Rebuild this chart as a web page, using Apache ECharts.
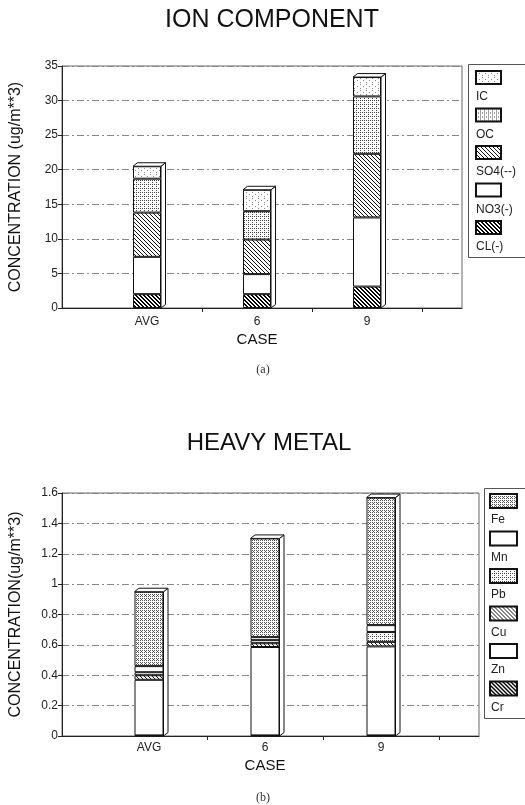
<!DOCTYPE html>
<html>
<head>
<meta charset="utf-8">
<script src="https://cdn.jsdelivr.net/npm/echarts@6/dist/echarts.min.js"></script>
<style>
  html, body { margin: 0; padding: 0; background: #fff; }
  #chart { width: 525px; height: 805px; }
</style>
</head>
<body>
<div id="chart"></div>
<script>
// Sampling cases shared by both panels
const cases = ['AVG', '6', '9'];

// (a) Ion components, ug/m**3 (stacked bottom to top)
const ionCL = [2.0, 2.0, 3.1];
const ionNO3 = [5.4, 2.9, 10.0];
const ionSO4 = [6.4, 5.0, 9.2];
const ionOC = [4.9, 4.1, 8.3];
const ionIC = [1.8, 3.1, 2.8];
const ionLegend = ['IC', 'OC', 'SO4(--)', 'NO3(-)', 'CL(-)'];
const ionAxis = { min: 0, max: 35, step: 5 };

// (b) Heavy metals, ug/m**3 (stacked bottom to top)
const metalCr = [0.004, 0.004, 0.004];
const metalZn = [0.366, 0.582, 0.586];
const metalCu = [0.03, 0.025, 0.03];
const metalPb = [0.02, 0.02, 0.065];
const metalMn = [0.04, 0.02, 0.045];
const metalFe = [0.49, 0.65, 0.84];
const metalLegend = ['Fe', 'Mn', 'Pb', 'Cu', 'Zn', 'Cr'];
const metalAxis = { min: 0, max: 1.6, step: 0.2 };

// ---- fill patterns (monochrome print style) ----
function pattern(size, test, fg) {
  const c = document.createElement('canvas');
  c.width = c.height = size;
  const ctx = c.getContext('2d');
  ctx.fillStyle = '#fff';
  ctx.fillRect(0, 0, size, size);
  ctx.fillStyle = fg;
  for (let y = 0; y < size; y++) {
    for (let x = 0; x < size; x++) {
      if (test(x, y)) ctx.fillRect(x, y, 1, 1);
    }
  }
  return { image: c, repeat: 'repeat' };
}
const fillWhite = '#ffffff';
const fillHatch = pattern(4, (x, y) => (x - y + 8) % 4 === 0, '#111');
const fillHatchDark = pattern(4, (x, y) => (x - y + 8) % 4 <= 1, '#000');
const fillGridDots = pattern(4, (x, y) => (y % 4 === 0 && x % 2 === 0) || (x % 4 === 0 && y % 2 === 0), '#444');
const fillSparseDots = pattern(6, (x, y) => (x % 6 === 0 && y % 4 === 0) || (x % 6 === 3 && y % 4 === 2), '#888');
const fillStipple = pattern(4, (x, y) => (x % 2 === 0 && y % 2 === 0) || (x % 4 === 1 && y % 4 === 3), '#555');

const FONT = '"Liberation Sans", Arial, sans-serif';

function sumArrays(arrs) {
  return cases.map((_, i) => arrs.reduce((s, a) => s + a[i], 0));
}

function stackBar(name, data, fill, xi, yi, stack, width) {
  return {
    type: 'bar', name, data, stack, xAxisIndex: xi, yAxisIndex: yi,
    barWidth: width,
    itemStyle: { color: fill, borderColor: '#111', borderWidth: 1 },
    emphasis: { disabled: true },
    z: 3
  };
}

// side and top faces giving each column a shallow box look
function boxFaces(totals, xi, yi, width) {
  return {
    type: 'custom', xAxisIndex: xi, yAxisIndex: yi, z: 4, silent: true,
    data: totals.map((t, i) => [i, t]),
    renderItem(params, api) {
      const top = api.coord([api.value(0), api.value(1)]);
      const base = api.coord([api.value(0), 0]);
      const xl = top[0] - width / 2, xr = top[0] + width / 2;
      const d = 4.5, dy = 3.5;
      const st = { fill: '#fff', stroke: '#111', lineWidth: 1 };
      return {
        type: 'group',
        children: [
          { type: 'polygon', shape: { points: [[xr, top[1]], [xr + d, top[1] - dy], [xr + d, base[1] - dy], [xr, base[1]]] }, style: st },
          { type: 'polygon', shape: { points: [[xl, top[1]], [xl + d, top[1] - dy], [xr + d, top[1] - dy], [xr, top[1]]] }, style: st }
        ]
      };
    }
  };
}

const gridLine = { show: true, lineStyle: { color: '#888', type: [7, 3, 2, 3], width: 1 } };

function valueAxis(grid, axis, name, visible) {
  return {
    type: 'value', gridIndex: grid, min: axis.min, max: axis.max, interval: axis.step,
    show: visible,
    name, nameLocation: 'middle', nameGap: 38,
    nameTextStyle: { fontFamily: FONT, fontSize: 16, color: '#111' },
    axisLine: { show: true, lineStyle: { color: '#222' } },
    axisTick: { show: true, length: 4, lineStyle: { color: '#222' } },
    axisLabel: { fontFamily: FONT, fontSize: 12, color: '#222', margin: 4 },
    splitLine: gridLine
  };
}

function frameAxis(grid) {
  return {
    type: 'value', gridIndex: grid, min: 0, max: 1,
    axisLine: { show: true, onZero: false, lineStyle: { color: '#222' } },
    axisTick: { show: false }, axisLabel: { show: false }, splitLine: { show: false }
  };
}

function caseAxis(grid, margin, nameGap) {
  return {
    type: 'category', gridIndex: grid, data: cases,
    name: 'CASE', nameLocation: 'middle', nameGap,
    nameTextStyle: { fontFamily: FONT, fontSize: 15, color: '#111' },
    axisLine: { show: false },
    axisTick: { show: true, length: 4, interval: (i) => i > 0, lineStyle: { color: '#222' } },
    axisLabel: { fontFamily: FONT, fontSize: 12, color: '#222', margin }
  };
}

function iconLegend(names, left, top, w, h, pitch) {
  return {
    data: names.map((n) => ({ name: n, icon: 'rect' })),
    orient: 'vertical', left, top, padding: 0,
    itemWidth: w, itemHeight: h, itemGap: pitch - h - 2,
    formatter: () => '', textStyle: { fontSize: 1, lineHeight: 1 },
    selectedMode: false
  };
}
function textLegend(names, left, top, pitch) {
  return {
    data: names, orient: 'vertical', left, top, padding: 0,
    itemWidth: 0, itemHeight: 14, itemGap: pitch - 16,
    itemStyle: { opacity: 0 },
    textStyle: { fontFamily: FONT, fontSize: 12, color: '#222', lineHeight: 14 },
    selectedMode: false
  };
}

const ionTotals = sumArrays([ionCL, ionNO3, ionSO4, ionOC, ionIC]);
const metalTotals = sumArrays([metalCr, metalZn, metalCu, metalPb, metalMn, metalFe]);

const option = {
  backgroundColor: '#fff',
  animation: false,
  grid: [
    { left: 58, top: 66, width: 404, height: 242, show: true, borderColor: '#666', borderWidth: 1 },
    { left: 92, top: 66, width: 330, height: 242 },
    { left: 58, top: 493, width: 421, height: 243, show: true, borderColor: '#666', borderWidth: 1 },
    { left: 91, top: 493, width: 348, height: 243 }
  ],
  xAxis: [frameAxis(0), caseAxis(1, 8, 24), frameAxis(2), caseAxis(3, 6, 22)],
  yAxis: [
    valueAxis(0, ionAxis, 'CONCENTRATION (ug/m**3)', true),
    valueAxis(1, ionAxis, '', false),
    valueAxis(2, metalAxis, 'CONCENTRATION(ug/m**3)', true),
    valueAxis(3, metalAxis, '', false)
  ],
  legend: [
    iconLegend(ionLegend, 475, 70, 25, 13, 37.5),
    textLegend(ionLegend, 470, 89, 37.5),
    iconLegend(metalLegend, 489, 493, 27, 14, 37.5),
    textLegend(metalLegend, 485, 512, 37.5)
  ],
  series: [
    stackBar('CL(-)', ionCL, fillHatchDark, 1, 1, 'ion', 28),
    stackBar('NO3(-)', ionNO3, fillWhite, 1, 1, 'ion', 28),
    stackBar('SO4(--)', ionSO4, fillHatch, 1, 1, 'ion', 28),
    stackBar('OC', ionOC, fillGridDots, 1, 1, 'ion', 28),
    stackBar('IC', ionIC, fillSparseDots, 1, 1, 'ion', 28),
    boxFaces(ionTotals, 1, 1, 28),
    stackBar('Cr', metalCr, fillHatchDark, 3, 3, 'metal', 29),
    stackBar('Zn', metalZn, fillWhite, 3, 3, 'metal', 29),
    stackBar('Cu', metalCu, fillHatch, 3, 3, 'metal', 29),
    stackBar('Pb', metalPb, fillGridDots, 3, 3, 'metal', 29),
    stackBar('Mn', metalMn, fillWhite, 3, 3, 'metal', 29),
    stackBar('Fe', metalFe, fillStipple, 3, 3, 'metal', 29),
    boxFaces(metalTotals, 3, 3, 29)
  ],
  graphic: [
    { type: 'text', x: 272, y: 20, style: { text: 'ION COMPONENT', font: '25px ' + FONT, fill: '#111', align: 'center', verticalAlign: 'middle' } },
    { type: 'text', x: 263, y: 370, style: { text: '(a)', font: '12px "Liberation Serif", serif', fill: '#333', align: 'center', verticalAlign: 'middle' } },
    { type: 'text', x: 269, y: 443, style: { text: 'HEAVY METAL', font: '24px ' + FONT, fill: '#111', align: 'center', verticalAlign: 'middle' } },
    { type: 'text', x: 263, y: 798, style: { text: '(b)', font: '12px "Liberation Serif", serif', fill: '#333', align: 'center', verticalAlign: 'middle' } },
    { type: 'rect', shape: { x: 468.5, y: 64.5, width: 80, height: 193 }, style: { fill: 'none', stroke: '#555', lineWidth: 1 }, z: 1 },
    { type: 'rect', shape: { x: 484.5, y: 488.5, width: 80, height: 230 }, style: { fill: 'none', stroke: '#555', lineWidth: 1 }, z: 1 }
  ]
};

const chart = echarts.init(document.getElementById('chart'), null, { renderer: 'canvas' });
chart.setOption(option);
</script>
</body>
</html>
